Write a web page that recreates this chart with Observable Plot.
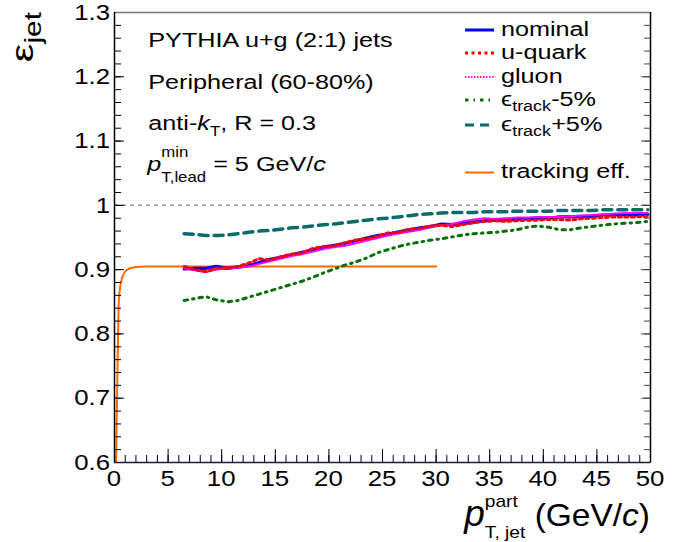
<!DOCTYPE html>
<html><head><meta charset="utf-8">
<script src="https://cdn.jsdelivr.net/npm/d3@7"></script>
<script src="https://cdn.jsdelivr.net/npm/@observablehq/plot@0.6"></script>
<style>
body{margin:0;background:#fff}
svg{font-family:"Liberation Sans",Arial,Helvetica,sans-serif}
</style>
</head><body><div id="chart"></div>
<script>
// ---- data ----
const pt = [6.5,7.5,8.5,9.5,10.5,11.5,12.5,13.5,14.5,15.5,16.5,17.5,18.5,19.5,20.5,21.5,22.5,23.5,24.5,25.5,26.5,27.5,28.5,29.5,30.5,31.5,32.5,33.5,34.5,35.5,36.5,37.5,38.5,39.5,40.5,41.5,42.5,43.5,44.5,45.5,46.5,47.5,48.5,49.75];
const nominal = [.901,.902,.902,.905,.902,.904,.906,.911,.916,.919,.923,.927,.931,.935,.938,.941,.945,.949,.953,.955,.959,.962,.965,.967,.971,.970,.972,.974,.976,.977,.977,.978,.979,.980,.980,.982,.982,.983,.983,.985,.985,.985,.985,.986];
const uQuark = [.905,.900,.897,.902,.903,.905,.910,.917,.915,.920,.924,.926,.933,.936,.937,.942,.946,.948,.952,.957,.958,.963,.964,.968,.969,.967,.970,.973,.975,.976,.975,.976,.977,.977,.978,.978,.977,.979,.980,.981,.982,.982,.982,.983];
const gluon = [.902,.899,.896,.900,.902,.903,.905,.909,.913,.917,.921,.924,.928,.932,.935,.937,.941,.945,.949,.953,.956,.959,.962,.966,.969,.971,.975,.978,.980,.979,.980,.981,.981,.982,.982,.982,.983,.984,.985,.986,.987,.988,.988,.988];
const trackMinus = [.852,.855,.858,.853,.850,.852,.857,.862,.867,.872,.877,.882,.888,.895,.901,.907,.912,.918,.926,.931,.936,.940,.943,.946,.948,.951,.954,.956,.957,.958,.960,.962,.966,.968,.966,.962,.962,.965,.967,.969,.971,.972,.973,.975];
const trackPlus = [.956,.955,.953,.953,.954,.956,.958,.960,.961,.963,.965,.966,.968,.970,.971,.973,.975,.977,.979,.980,.982,.984,.986,.987,.988,.989,.989,.989,.990,.990,.990,.991,.991,.991,.991,.992,.992,.992,.992,.993,.993,.993,.993,.993];
const effPt  = [0.08,0.15,0.25,0.4,0.55,0.72,1.0,1.3,2.0,3.0,5.0,10,20,30];
const effVal = [0.45,0.60,0.71,0.85,0.875,0.888,0.897,0.901,0.904,0.905,0.905,0.905,0.905,0.905];
const xTicks = [0,5,10,15,20,25,30,35,40,45,50];
const xTickLabels = ["0","5","10","15","20","25","30","35","40","45","50"];
const yTicks = [0.6,0.7,0.8,0.9,1.0,1.1,1.2,1.3];
const yTickLabels = ["0.6","0.7","0.8","0.9","1","1.1","1.2","1.3"];
const annotations = ["PYTHIA u+g (2:1) jets","Peripheral (60-80%)"];
const legendNames = ["nominal","u-quark","gluon","track-5%","track+5%","tracking eff."];

// ---- styles ----
const SX = 1.2;
const styles = {
  nominal:   {stroke:"#0000ff", strokeWidth:3.2},
  uQuark:    {stroke:"#ff0000", strokeWidth:3, strokeDasharray:"3,3.5"},
  gluon:     {stroke:"#ff00ff", strokeWidth:2, strokeDasharray:"1.5,1.5"},
  minus:     {stroke:"#0b6e0b", strokeWidth:3, strokeDasharray:"3.5,5,1.5,5"},
  plus:      {stroke:"#0a6b6b", strokeWidth:3.5, strokeDasharray:"9,6"},
  eff:       {stroke:"#ff6a00", strokeWidth:2}
};
const ser = (ys) => pt.map((x,i)=>({x, y:ys[i]}));
const eff = effPt.map((x,i)=>({x, y:effVal[i]}));
const minorY = d3.range(0,36).map(i=>0.6+i*0.02);
const minorX = d3.range(0,51,1);

const plot = Plot.plot({
  width:689, height:542,
  marginLeft:114, marginRight:39, marginTop:12, marginBottom:80,
  x:{domain:[0,50]}, y:{domain:[0.6,1.3]},
  style:{fontFamily:'"Liberation Sans",Arial,sans-serif', fontSize:"21.5px", background:"white", color:"black"},
  marks:[
    Plot.ruleY([1], {stroke:"#9a9a9a", strokeWidth:1.5, strokeDasharray:"4,4"}),
    Plot.line(eff, {x:"x", y:"y", curve:"monotone-x", clip:true, ...styles.eff}),
    Plot.line(ser(trackMinus), {x:"x", y:"y", clip:true, ...styles.minus}),
    Plot.line(ser(trackPlus), {x:"x", y:"y", clip:true, ...styles.plus}),
    Plot.line(ser(nominal), {x:"x", y:"y", clip:true, ...styles.nominal}),
    Plot.line(ser(gluon), {x:"x", y:"y", clip:true, ...styles.gluon}),
    Plot.line(ser(uQuark), {x:"x", y:"y", clip:true, ...styles.uQuark}),
    // x axis ticks (inward)
    Plot.axisX({ticks:minorX, tickSize:-7, fill:"none", label:null, stroke:"black"}),
    Plot.axisX({ticks:xTicks, tickSize:-13, fill:"none", label:null, stroke:"black"}),
    // y axis ticks left
    Plot.axisY({anchor:"left", ticks:minorY, tickSize:-7, fill:"none", label:null, stroke:"black"}),
    Plot.axisY({anchor:"left", ticks:yTicks, tickSize:-10, fill:"none", label:null, stroke:"black"}),
    // y axis ticks right
    Plot.axisY({anchor:"right", ticks:minorY, tickSize:-7, fill:"none", label:null, stroke:"#444"}),
    Plot.axisY({anchor:"right", ticks:yTicks, tickSize:-10, fill:"none", label:null, stroke:"#444"}),
    // frame
    Plot.ruleY([1.3], {stroke:"#777", strokeWidth:1.5}),
    Plot.ruleX([50], {stroke:"black", strokeWidth:1.5}),
    Plot.ruleX([0], {stroke:"black", strokeWidth:1.5}),
    Plot.ruleY([0.6], {stroke:"#1c1c40", strokeWidth:1.5})
  ]
});
plot.querySelectorAll("g[aria-label$='tick label']").forEach(g => g.remove());

document.getElementById("chart").appendChild(plot);

const svg = d3.select(plot);
const sx = plot.scale("x"), sy = plot.scale("y");
const gT = svg.append("g").attr("fill","black").attr("text-anchor","start").attr("font-family",'"Liberation Sans",Arial,sans-serif');

// rich text helper: parts = [{t,size,italic,dy,hold,sx}]
function rich(g, x, y, parts, anchor="start", sxf=SX) {
  const items = [];
  let cx = 0, held = 0;
  for (const p of parts) {
    const s = p.sx || sxf;
    const el = g.append("text").attr("text-anchor","start").attr("xml:space","preserve")
      .attr("font-size", p.size).attr("font-style", p.italic ? "italic" : null).text(p.t);
    const w = el.node().getComputedTextLength() * s;
    items.push({el, x:cx, dy:p.dy||0, s});
    if (p.hold) { held = Math.max(held, w); }
    else { cx += Math.max(w, held); held = 0; }
  }
  const total = cx;
  const off = anchor === "end" ? -total : anchor === "middle" ? -total/2 : 0;
  for (const it of items) it.el.attr("transform", `translate(${x+off+it.x},${y+it.dy}) scale(${it.s},1)`);
  return total;
}

// tick labels
xTicks.forEach((v,i) => rich(gT, sx.apply(v), 485.5, [{t:xTickLabels[i], size:21.5}], "middle"));
yTicks.forEach((v,i) => rich(gT, sx.apply(0) - 4, sy.apply(v) + 7.7, [{t:yTickLabels[i], size:21.5}], "end"));

// annotations (top-left)
const ax = sx.apply(3.2);
rich(gT, ax, 47, [{t:annotations[0], size:21}]);
rich(gT, ax, 88.5, [{t:annotations[1], size:21}]);
rich(gT, ax, 130, [{t:"anti-", size:21},{t:"k", size:21, italic:true},{t:"T", size:14, dy:6},{t:", R = 0.3", size:21}]);
rich(gT, ax-1, 171, [{t:"p", size:21, italic:true},{t:"min", size:14, dy:-14, hold:true},{t:"T,lead", size:14, dy:11},{t:" = 5 GeV/", size:21},{t:"c", size:21, italic:true}]);

// legend
const lx1 = 465, lx2 = 494, tx = 501;
const legY = [30, 53, 77, 100, 125, 172.5];
const legStyles = [styles.nominal, styles.uQuark, styles.gluon, styles.minus, styles.plus, styles.eff];
legStyles.forEach((s,i) => {
  svg.append("line").attr("x1",lx1).attr("x2",lx2).attr("y1",legY[i]).attr("y2",legY[i])
    .attr("stroke", s.stroke).attr("stroke-width", Math.min(s.strokeWidth,3)).attr("stroke-dasharray", s.strokeDasharray || null);
});
rich(gT, tx, legY[0]+5.5, [{t:legendNames[0], size:21}]);
rich(gT, tx, legY[1]+5.5, [{t:legendNames[1], size:21}]);
rich(gT, tx, legY[2]+5.5, [{t:legendNames[2], size:21}]);
rich(gT, tx, legY[3]+5.5, [{t:"ϵ", size:21},{t:"track", size:15, dy:5},{t:"-5%", size:21}]);
rich(gT, tx, legY[4]+5.5, [{t:"ϵ", size:21},{t:"track", size:15, dy:5},{t:"+5%", size:21}]);
rich(gT, tx, legY[5]+5.5, [{t:legendNames[5], size:21}]);

// x-axis title
rich(gT, 650, 526, [{t:"p", size:37, italic:true, sx:1.0},{t:"part", size:16, dy:-19, hold:true},{t:"T, jet", size:16, dy:12},{t:" (GeV/", size:31, sx:1.08},{t:"c", size:31, italic:true, sx:1.08},{t:")", size:31, sx:1.08}], "end");

// y-axis title (rotated)
const gY = gT.append("g").attr("transform","translate(33,12) rotate(-90)");
rich(gY, 0, 0, [{t:"ε", size:32},{t:"jet", size:23, dy:8}], "end", 1.3);
</script>
</body></html>
